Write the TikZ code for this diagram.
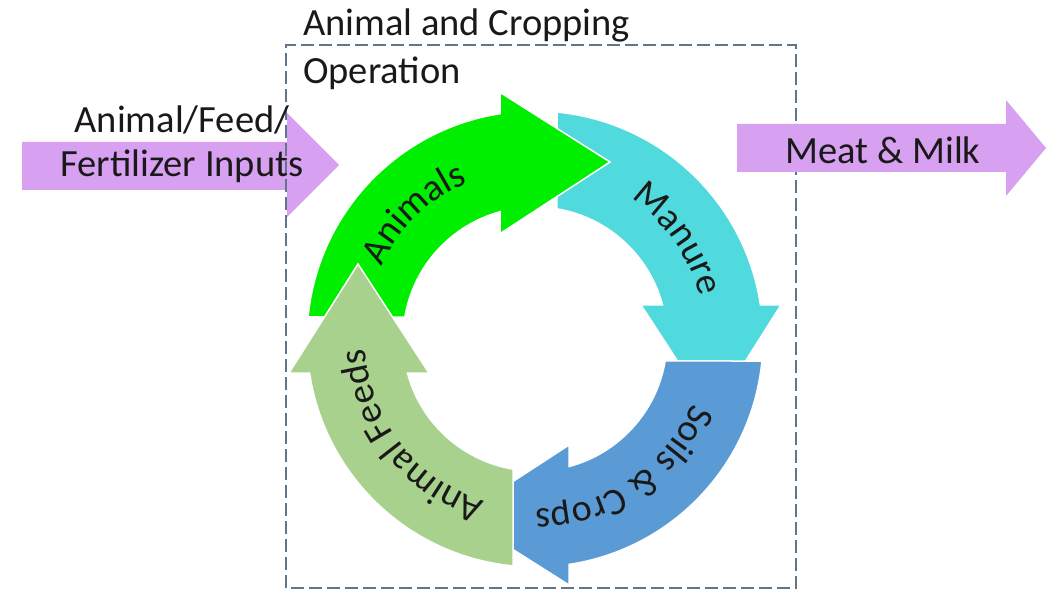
\documentclass[tikz,border=0pt]{standalone}
\usepackage{fontspec}
\setmainfont{Carlito}
\usetikzlibrary{decorations.text}
\definecolor{cgreen}{RGB}{0,238,0}
\definecolor{ccyan}{RGB}{80,218,222}
\definecolor{cblue}{RGB}{91,155,213}
\definecolor{csage}{RGB}{169,209,142}
\definecolor{cpurple}{RGB}{216,160,240}
\definecolor{cdash}{RGB}{95,118,140}
\definecolor{ctext}{RGB}{25,25,25}
\newcommand{\ringfont}{\fontsize{38}{40}\selectfont}
\tikzset{
  ringarrow/.style={draw=white, line width=1.5pt},
  flatarrow/.style={fill=cpurple},
  lbl/.style={inner sep=0pt, text=ctext},
  ringtext/.style={decorate, decoration={text along path, text align=center, text color=ctext, text={|\ringfont|#1}}},
  boxline/.style={draw=cdash, line width=1.5pt, dash pattern=on 13pt off 5pt}
}
\begin{document}
\begin{tikzpicture}[x=1pt,y=1pt]
\useasboundingbox (0,0) rectangle (1048,592);
\coordinate (ctr) at (535,253);
% left input arrow
\path[flatarrow] (22,402) -- (287,402) -- (287,375) -- (339,427) -- (287,479) -- (287,450) -- (22,450) -- cycle;
% ring arrows
\foreach \rot/\col in {0/cgreen, -90/ccyan, -180/cblue, -270/csage} {
  \begin{scope}[shift={(ctr)}, rotate=\rot]
    \filldraw[ringarrow, fill=\col] (174.46:228) arc[start angle=174.46, end angle=98.58, radius=228]
      -- (-34,246) -- (75,177) -- (-34,106) -- (104.93:132)
      arc[start angle=104.93, end angle=170.41, radius=132] -- cycle;
  \end{scope}
}
% green head on top of the cyan tail
\begin{scope}[shift={(ctr)}]
  \fill[cgreen] (-34,246) -- (75,177) -- (-34,106) -- cycle;
  \draw[ringarrow] (-34,246) -- (75,177) -- (-34,106);
\end{scope}
% dashed box
\draw[boxline] (286,4) rectangle (796,547);
% right output arrow
\path[flatarrow] (737,420) -- (1006,420) -- (1006,396) -- (1046,444) -- (1006,492) -- (1006,468) -- (737,468) -- cycle;
% ring texts
\path[ringtext={Animals}] (ctr) ++(194:170) arc[start angle=194, end angle=74, radius=170];
\path[ringtext={Manure}] (ctr) ++(95:170) arc[start angle=95, end angle=-25, radius=170];
\path[ringtext={Soils {\&} Crops}] (ctr) ++(4:170) arc[start angle=4, end angle=-116, radius=170];
\path[ringtext={Animal Feeds}] (ctr) ++(278:170) arc[start angle=278, end angle=158, radius=170];
% labels
\node[lbl, align=center, anchor=base, font=\fontsize{38.5}{44}\selectfont] (inlbl) at (182,415) {Animal/Feed/\\Fertilizer Inputs};
\node[lbl, anchor=base, font=\fontsize{38.5}{40}\selectfont] (outlbl) at (883,428) {Meat \& Milk};
\node[lbl, align=left, anchor=base west, font=\fontsize{38.5}{48}\selectfont] (oplbl) at (303,508) {Animal and Cropping\\Operation};
\end{tikzpicture}
\end{document}
